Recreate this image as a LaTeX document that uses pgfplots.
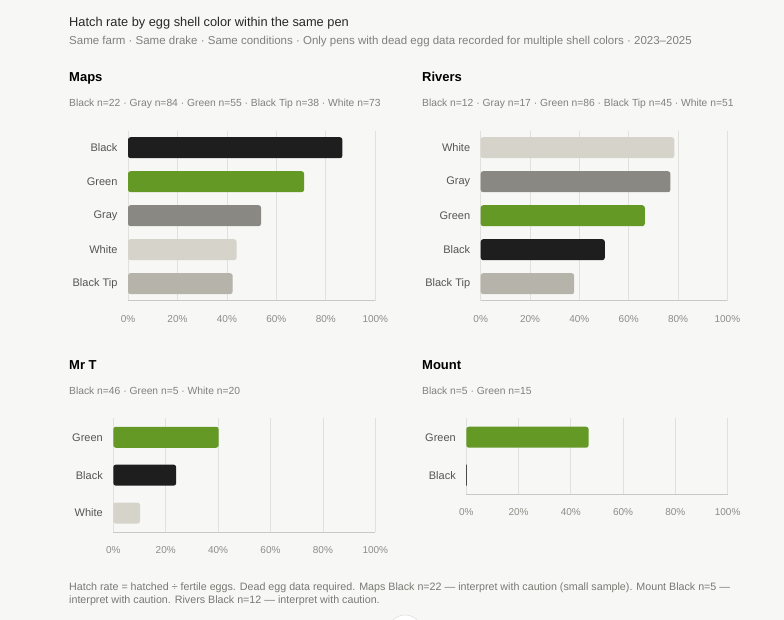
\documentclass[border=0pt]{standalone}
\usepackage{fontspec}
\setmainfont{Liberation Sans}
\usepackage{pgfplots}
\pgfplotsset{compat=1.18}

\definecolor{pagebg}{RGB}{247,247,245}
\definecolor{titlecol}{RGB}{40,40,40}
\definecolor{subcol}{RGB}{128,128,124}
\definecolor{notecol}{RGB}{120,120,116}
\definecolor{tickcol}{RGB}{140,140,136}
\definecolor{labelcol}{RGB}{85,85,82}
\definecolor{gridcol}{RGB}{224,224,220}
\definecolor{axiscol}{RGB}{200,200,196}
\definecolor{cBlack}{RGB}{30,30,30}
\definecolor{cGreen}{RGB}{101,153,37}
\definecolor{cGray}{RGB}{138,136,130}
\definecolor{cWhite}{RGB}{214,211,203}
\definecolor{cBlackTip}{RGB}{182,179,171}

\pgfplotsset{
  panel/.style={
    scale only axis,
    anchor=south west,
    xmin=0, xmax=100,
    xtick={0,20,40,60,80,100},
    xticklabel={\pgfmathprintnumber{\tick}\%},
    /pgf/number format/assume math mode=true,
    y dir=reverse,
    axis x line*=bottom,
    axis y line*=left,
    y axis line style={draw=none},
    x axis line style={draw=axiscol, line width=0.9pt},
    xmajorgrids,
    major grid style={draw=gridcol, line width=0.7pt},
    major tick length=0pt,
    xticklabel style={font=\fontsize{10}{12}\selectfont, text=tickcol, yshift=-11pt},
    yticklabel style={font=\fontsize{11}{13}\selectfont, text=labelcol, xshift=-7pt},
    enlarge y limits=false,
    bar width=21pt,
    clip=false,
  },
  hbar/.style={xbar, bar shift=0pt, draw=none, fill=#1, rounded corners=2.5pt},
}

\begin{document}
\begin{tikzpicture}
\fill[pagebg] (0,0) rectangle (784pt,-620pt);
\useasboundingbox (0,0) rectangle (784pt,-620pt);

% header
\node[anchor=base west, inner sep=0, text=titlecol, font=\fontsize{12.8}{15}\selectfont]
  at (69pt,-27pt) {Hatch rate by egg shell color within the same pen};
\node[anchor=base west, inner sep=0, text=subcol, font=\fontsize{11.5}{14}\selectfont]
  at (69pt,-45pt) {Same farm · Same drake · Same conditions · Only pens with dead egg data recorded for multiple shell colors · 2023–2025};

% panel headings
\foreach \x/\y/\name/\counts in {
  69/82/Maps/{Black n=22 · Gray n=84 · Green n=55 · Black Tip n=38 · White n=73},
  422/82/Rivers/{Black n=12 · Gray n=17 · Green n=86 · Black Tip n=45 · White n=51},
  69/369/Mr T/{Black n=46 · Green n=5 · White n=20},
  422/369/Mount/{Black n=5 · Green n=15}}{
  \node[anchor=base west, inner sep=0, text=black, font=\bfseries\fontsize{13}{15}\selectfont]
    at (\x pt,-\y pt) {\name};
  \node[anchor=base west, inner sep=0, text=subcol, font=\fontsize{10.3}{12}\selectfont]
    at (\x pt,-\y pt-25pt) {\counts};
}

% Maps
\begin{axis}[panel, at={(128pt,-300.7pt)}, width=247.3pt, height=170pt,
  ymin=-0.5, ymax=4.5, ytick={0,1,2,3,4},
  yticklabels={Black,Green,Gray,White,Black Tip}]
\addplot[hbar=cBlack] coordinates {(86.7,0)};
\addplot[hbar=cGreen] coordinates {(71.2,1)};
\addplot[hbar=cGray] coordinates {(53.8,2)};
\addplot[hbar=cWhite] coordinates {(43.9,3)};
\addplot[hbar=cBlackTip] coordinates {(42.3,4)};
\end{axis}

% Rivers
\begin{axis}[panel, at={(480.7pt,-300.7pt)}, width=246.7pt, height=170pt,
  ymin=-0.5, ymax=4.5, ytick={0,1,2,3,4},
  yticklabels={White,Gray,Green,Black,Black Tip}]
\addplot[hbar=cWhite] coordinates {(78.5,0)};
\addplot[hbar=cGray] coordinates {(76.9,1)};
\addplot[hbar=cGreen] coordinates {(66.5,2)};
\addplot[hbar=cBlack] coordinates {(50.3,3)};
\addplot[hbar=cBlackTip] coordinates {(37.9,4)};
\end{axis}

% Mr T
\begin{axis}[panel, at={(113.3pt,-532pt)}, width=262pt, height=113.7pt,
  ymin=-0.5, ymax=2.5, ytick={0,1,2},
  yticklabels={Green,Black,White}]
\addplot[hbar=cGreen] coordinates {(40.2,0)};
\addplot[hbar=cBlack] coordinates {(24.0,1)};
\addplot[hbar=cWhite] coordinates {(10.2,2)};
\end{axis}

% Mount
\begin{axis}[panel, at={(466.3pt,-494pt)}, width=261.3pt, height=75.7pt,
  ymin=-0.5, ymax=1.5, ytick={0,1},
  yticklabels={Green,Black}]
\addplot[hbar=cGreen] coordinates {(46.8,0)};
\addplot[xbar, bar shift=0pt, fill=cBlack, draw=cBlack!80, line width=0.5pt] coordinates {(0,1)};
\end{axis}

% footnote
\node[anchor=base west, inner sep=0, text=notecol, align=left,
  font=\fontsize{10.7}{13.5}\selectfont]
  at (69pt,-603.5pt) {Hatch rate = hatched ÷ fertile eggs. Dead egg data required. Maps Black n=22 — interpret with caution (small sample). Mount Black n=5 —\\
  interpret with caution. Rivers Black n=12 — interpret with caution.};

% scroll button peeking in at the bottom edge
\begin{scope}
\clip (0,0) rectangle (784pt,-620pt);
\draw[draw=gridcol, fill=white, line width=0.6pt] (405pt,-632pt) circle (17pt);
\end{scope}
\end{tikzpicture}
\end{document}
